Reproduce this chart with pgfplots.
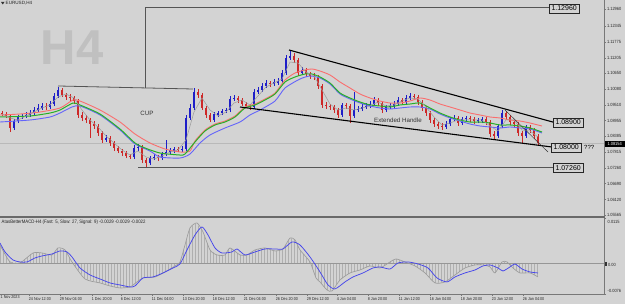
\documentclass[border=0pt]{standalone}
\usepackage{fontspec}
\setmainfont{Liberation Sans}
\newfontfamily\nf[FakeStretch=0.88]{Liberation Sans}
\usepackage{pgfplots}
\pgfplotsset{compat=1.18}
\usepackage{pgfplotstable}
\usetikzlibrary{patterns}

\definecolor{bg}{RGB}{211,211,211}
\definecolor{wm}{RGB}{192,192,192}
\definecolor{upc}{RGB}{30,30,200}
\definecolor{dnc}{RGB}{205,40,40}
\definecolor{mag}{RGB}{40,175,40}
\definecolor{mar}{RGB}{250,110,110}
\definecolor{mab}{RGB}{100,100,250}
\definecolor{fastc}{RGB}{155,155,155}
\definecolor{axisc}{RGB}{120,120,120}
\definecolor{lvl}{RGB}{85,85,85}
\definecolor{histc}{RGB}{175,175,175}
\definecolor{macdb}{RGB}{70,70,235}

\newcommand\lblfont{\fontsize{4.5}{5}\nf}
\newcommand\datefont{\fontsize{4.2}{5}\nf}
\newcommand\boxfont{\fontsize{7}{8}\selectfont}

\pgfplotstableread{
x o h l c d
2 1.09226 1.09298 1.09119 1.09190 0
6 1.09190 1.09262 1.09047 1.09119 0
10 1.09119 1.09190 1.08544 1.08688 0
14 1.08688 1.09011 1.08616 1.08939 1
18 1.08939 1.09155 1.08867 1.09083 1
22 1.09083 1.09190 1.09011 1.09119 1
26 1.09119 1.09262 1.09047 1.09155 1
30 1.09155 1.09334 1.09083 1.09226 1
34 1.09226 1.09442 1.09155 1.09334 1
38 1.09334 1.09549 1.09262 1.09406 1
42 1.09406 1.09585 1.09334 1.09478 1
46 1.09478 1.09585 1.09334 1.09442 0
50 1.09442 1.09657 1.09370 1.09549 1
54 1.09549 1.09944 1.09478 1.09837 1
58 1.09837 1.10160 1.09765 1.10052 1
62 1.10052 1.10124 1.09801 1.09873 0
66 1.09873 1.09944 1.09693 1.09801 0
70 1.09801 1.09908 1.09657 1.09765 0
74 1.09765 1.09837 1.09549 1.09657 0
78 1.09657 1.09729 1.09047 1.09155 0
82 1.09155 1.09262 1.08939 1.09047 0
86 1.09047 1.09155 1.08867 1.08975 0
90 1.08975 1.09047 1.08330 1.08831 0
94 1.08831 1.08939 1.08652 1.08760 0
98 1.08760 1.08831 1.08402 1.08508 0
102 1.08508 1.08580 1.08150 1.08258 0
106 1.08258 1.08438 1.08186 1.08330 1
110 1.08330 1.08402 1.08042 1.08150 0
114 1.08150 1.08222 1.07862 1.07970 0
118 1.07970 1.08042 1.07790 1.07862 0
122 1.07862 1.07934 1.07682 1.07790 0
126 1.07790 1.07862 1.07610 1.07682 0
130 1.07682 1.07754 1.07574 1.07646 0
134 1.07646 1.08078 1.07574 1.07970 1
138 1.07970 1.08114 1.07862 1.08006 1
142 1.08006 1.08078 1.07431 1.07539 0
146 1.07539 1.07610 1.07251 1.07431 0
150 1.07431 1.07682 1.07359 1.07610 1
154 1.07610 1.07754 1.07539 1.07646 1
158 1.07646 1.07718 1.07503 1.07610 0
162 1.07610 1.07826 1.07539 1.07754 1
166 1.07754 1.08258 1.07682 1.07826 1
170 1.07826 1.07970 1.07754 1.07898 1
174 1.07862 1.08006 1.07790 1.07934 1
178 1.07934 1.08006 1.07826 1.07898 0
182 1.07898 1.08042 1.07826 1.07934 1
186 1.07934 1.09155 1.07862 1.09047 1
190 1.09047 1.09549 1.08975 1.09406 1
194 1.09406 1.10124 1.09334 1.09980 1
198 1.09980 1.10088 1.09765 1.09873 0
202 1.09873 1.09944 1.09334 1.09406 0
206 1.09406 1.09478 1.09047 1.09155 0
210 1.09155 1.09226 1.08903 1.08975 0
214 1.08975 1.09262 1.08903 1.09190 1
218 1.09155 1.09298 1.09083 1.09226 1
222 1.09226 1.09370 1.09155 1.09298 1
226 1.09298 1.09406 1.09226 1.09334 1
230 1.09334 1.09837 1.09262 1.09729 1
234 1.09729 1.09873 1.09657 1.09765 1
238 1.09765 1.09837 1.09585 1.09693 0
242 1.09693 1.09765 1.09478 1.09549 0
246 1.09549 1.09621 1.09406 1.09478 0
250 1.09478 1.09549 1.09334 1.09442 0
254 1.09442 1.10088 1.09370 1.09980 1
258 1.09980 1.10160 1.09908 1.10052 1
262 1.10052 1.10303 1.09980 1.10196 1
266 1.10196 1.10411 1.10124 1.10303 1
270 1.10303 1.10375 1.10160 1.10267 0
274 1.10267 1.10447 1.10196 1.10339 1
278 1.10303 1.10483 1.10232 1.10375 1
282 1.10375 1.10770 1.10303 1.10662 1
286 1.10662 1.11309 1.10591 1.11201 1
290 1.11201 1.11488 1.11129 1.11273 1
294 1.11273 1.11380 1.11021 1.11129 0
298 1.11129 1.11201 1.10555 1.10662 0
302 1.10662 1.10878 1.10591 1.10770 1
306 1.10770 1.10842 1.10519 1.10626 0
310 1.10626 1.10698 1.10447 1.10555 0
314 1.10555 1.10662 1.10411 1.10519 0
318 1.10519 1.10591 1.10088 1.10196 0
322 1.10196 1.10267 1.09406 1.09514 0
326 1.09514 1.09621 1.09370 1.09478 0
330 1.09478 1.09549 1.09334 1.09442 0
334 1.09442 1.09514 1.09226 1.09334 0
338 1.09334 1.09406 1.09047 1.09155 0
342 1.09155 1.09585 1.09083 1.09514 1
346 1.09514 1.09585 1.09370 1.09478 0
350 1.09478 1.09549 1.08867 1.09119 0
354 1.09119 1.09980 1.09047 1.09334 1
358 1.09334 1.09478 1.09262 1.09370 1
362 1.09370 1.09549 1.09298 1.09442 1
366 1.09442 1.09585 1.09370 1.09478 1
370 1.09478 1.09657 1.09406 1.09549 1
374 1.09549 1.09801 1.09478 1.09693 1
378 1.09693 1.09765 1.09478 1.09585 0
382 1.09585 1.09657 1.09226 1.09334 0
386 1.09334 1.09514 1.09262 1.09442 1
390 1.09442 1.09585 1.09370 1.09478 1
394 1.09478 1.09657 1.09406 1.09549 1
398 1.09549 1.09801 1.09478 1.09693 1
402 1.09693 1.09765 1.09514 1.09621 0
406 1.09621 1.09873 1.09549 1.09765 1
410 1.09765 1.09944 1.09693 1.09837 1
414 1.09837 1.09908 1.09693 1.09801 0
418 1.09801 1.09873 1.09514 1.09621 0
422 1.09621 1.09693 1.09298 1.09406 0
426 1.09406 1.09478 1.09119 1.09226 0
430 1.09226 1.09298 1.08867 1.08975 0
434 1.08975 1.09047 1.08724 1.08831 0
438 1.08831 1.08903 1.08652 1.08760 0
442 1.08760 1.08867 1.08616 1.08724 0
446 1.08724 1.08939 1.08652 1.08831 1
450 1.08831 1.09083 1.08760 1.09011 1
454 1.09011 1.09155 1.08939 1.09047 1
458 1.09047 1.09119 1.08760 1.08867 0
462 1.08867 1.09083 1.08796 1.09011 1
466 1.09011 1.09119 1.08939 1.09047 1
470 1.09047 1.09119 1.08903 1.09011 0
474 1.09011 1.09083 1.08831 1.08939 0
478 1.08939 1.09047 1.08867 1.08975 1
482 1.08939 1.09083 1.08867 1.09011 1
486 1.09011 1.09083 1.08796 1.08903 0
490 1.08903 1.08975 1.08366 1.08472 0
494 1.08472 1.08580 1.08294 1.08402 0
498 1.08402 1.08831 1.08330 1.08760 1
502 1.08760 1.09334 1.08688 1.09226 1
506 1.09226 1.09298 1.08975 1.09083 0
510 1.09083 1.09155 1.08796 1.08903 0
514 1.08903 1.08975 1.08724 1.08831 0
518 1.08831 1.08903 1.08402 1.08508 0
522 1.08508 1.08580 1.08150 1.08402 0
526 1.08402 1.08796 1.08330 1.08724 1
530 1.08724 1.08796 1.08508 1.08616 0
534 1.08616 1.08688 1.08294 1.08402 0
538 1.08402 1.08472 1.08078 1.08150 0
}\candles

\pgfplotstableread{
x v
0 0.00472
10 0.00045
20 0.00020
33 0.00271
42 0.00271
52 0.00221
58 0.00397
65 0.00347
72 0.00045
85 -0.00382
100 -0.00482
110 -0.00558
120 -0.00608
130 -0.00583
137 -0.00457
143 -0.00357
155 -0.00332
165 -0.00206
175 -0.00055
180 0.00045
185 0.00472
190 0.00900
197 0.01025
203 0.00799
210 0.00347
217 0.00221
225 0.00221
230 0.00397
240 0.00221
247 0.00221
255 0.00347
265 0.00397
275 0.00322
283 0.00372
290 0.00648
295 0.00598
300 0.00347
310 0.00045
316 -0.00357
320 -0.00457
327 -0.00658
332 -0.00684
340 -0.00407
350 -0.00231
360 -0.00156
370 -0.00055
380 -0.00106
390 0.00045
396 0.00121
405 0.00045
415 -0.00055
425 -0.00231
435 -0.00482
445 -0.00457
455 -0.00281
465 -0.00106
475 -0.00030
483 -0.00030
490 -0.00080
495 -0.00231
502 0.00045
507 0.00045
513 -0.00106
520 -0.00231
530 -0.00231
538 -0.00332
}\macdmain

\pgfplotstableread{
x v
0 0.00523
5 0.00297
13 0.00095
20 0.00045
27 0.00045
35 0.00146
42 0.00196
52 0.00246
60 0.00322
67 0.00297
72 0.00171
80 -0.00106
90 -0.00281
100 -0.00382
110 -0.00482
120 -0.00533
130 -0.00583
135 -0.00558
143 -0.00357
153 -0.00332
163 -0.00231
173 -0.00106
180 -0.00005
187 0.00347
195 0.00724
202 0.00925
208 0.00724
215 0.00397
222 0.00271
232 0.00297
237 0.00372
245 0.00221
255 0.00297
265 0.00372
275 0.00372
283 0.00372
292 0.00548
300 0.00472
310 0.00171
320 -0.00206
328 -0.00533
335 -0.00633
345 -0.00457
353 -0.00332
363 -0.00231
373 -0.00106
380 -0.00080
390 -0.00131
398 0.00020
408 0.00045
418 -0.00005
428 -0.00106
437 -0.00357
447 -0.00457
455 -0.00332
465 -0.00231
475 -0.00156
483 -0.00055
490 -0.00030
498 -0.00106
503 -0.00181
510 -0.00080
515 -0.00005
522 -0.00131
530 -0.00206
538 -0.00231
}\macdsignal

\begin{document}
\begin{tikzpicture}[x=1pt,y=1pt]
\useasboundingbox (0pt,0pt) rectangle (625pt,-304pt);
\fill[bg] (0pt,0pt) rectangle (625pt,-304pt);
% watermark
\node[text=wm, font=\fontsize{49}{50}\bfseries, inner sep=0pt] at (72pt,-47.5pt) {H4};
% title
\fill[black!80] (1pt,-2pt) -- (4.5pt,-2pt) -- (2.75pt,-4.5pt) -- cycle;
\node[anchor=west, inner sep=0pt, font=\fontsize{4.6}{5}\selectfont, text=black!85] at (5.5pt,-3.2pt) {EURUSD,H4};

% ---------------- price panel ----------------
\begin{axis}[
  at={(0pt,0pt)}, anchor=north west,
  scale only axis, width=604pt, height=216pt,
  xmin=0, xmax=604, ymin=1.05529, ymax=1.13283,
  axis x line=none, axis y line*=right,
  axis line style={-, draw=axisc, line width=0.8pt},
  ytick={1.12960,1.12345,1.11775,1.11205,1.10650,1.10080,1.09510,1.08955,1.08385,1.07815,1.07260,1.06690,1.06120,1.05565},
  yticklabels={1.12960,1.12345,1.11775,1.11205,1.10650,1.10080,1.09510,1.08955,1.08385,1.07815,1.07260,1.06690,1.06120,1.05565},
  scaled y ticks=false,
  tick align=outside, major tick length=2pt,
  tick style={draw=axisc, line width=0.5pt},
  yticklabel style={font=\lblfont, inner sep=0.8pt, text=black!85},
]
% bid line
\addplot[draw={rgb,255:red,185;green,185;blue,185}, line width=0.5pt] coordinates {(0,1.08154) (604,1.08154)};

% candles (the other colour's candles are pushed one unit above the axis and clipped)
\addplot[upc, line width=0.6pt, -, mark=none, quiver={u=0, v=\thisrow{h}-\thisrow{l}}]
  table[x=x, y expr={\thisrow{l}+1-\thisrow{d}}] {\candles};
\addplot[dnc, line width=0.6pt, -, mark=none, quiver={u=0, v=\thisrow{h}-\thisrow{l}}]
  table[x=x, y expr={\thisrow{l}+\thisrow{d}}] {\candles};
\addplot[upc, line width=2.8pt, -, mark=none, quiver={u=0, v=\thisrow{c}-\thisrow{o}}]
  table[x=x, y expr={\thisrow{o}+1-\thisrow{d}}] {\candles};
\addplot[dnc, line width=2.8pt, -, mark=none, quiver={u=0, v=\thisrow{c}-\thisrow{o}}]
  table[x=x, y expr={\thisrow{o}+\thisrow{d}}] {\candles};

% moving averages
\addplot[mar, line width=0.9pt, smooth, tension=0.4] coordinates {
(0,1.09155) (20,1.09190) (40,1.09262) (60,1.09406) (73,1.09693) (80,1.09657) (100,1.09334) (120,1.08903) (135,1.08472) (150,1.08150) (165,1.07934) (180,1.07826) (190,1.07862) (195,1.08222) (205,1.08616) (215,1.08831) (225,1.08939) (235,1.09119) (245,1.09442) (255,1.09549) (265,1.09729) (275,1.09944) (285,1.10411) (295,1.10662) (305,1.10770) (312,1.10806) (320,1.10734) (330,1.10591) (340,1.10339) (350,1.10124) (360,1.09908) (370,1.09765) (380,1.09657) (390,1.09585) (400,1.09585) (410,1.09657) (420,1.09765) (430,1.09693) (440,1.09549) (450,1.09442) (460,1.09334) (470,1.09226) (480,1.09155) (490,1.09083) (500,1.09047) (510,1.08975) (520,1.08939) (530,1.08867) (542,1.08760)};
\addplot[mab, line width=0.9pt, smooth, tension=0.4] coordinates {
(0,1.08903) (30,1.08975) (50,1.09083) (60,1.09226) (72,1.09442) (80,1.09478) (100,1.09155) (120,1.08616) (135,1.08114) (150,1.07862) (160,1.07646) (180,1.07610) (190,1.07754) (200,1.08150) (210,1.08438) (225,1.08688) (240,1.08903) (250,1.09155) (260,1.09334) (275,1.09657) (285,1.10124) (300,1.10447) (310,1.10555) (320,1.10483) (330,1.10267) (340,1.09908) (350,1.09729) (360,1.09585) (370,1.09478) (380,1.09406) (390,1.09370) (400,1.09406) (410,1.09442) (420,1.09442) (430,1.09370) (440,1.09190) (450,1.09047) (460,1.08939) (470,1.08831) (480,1.08760) (490,1.08724) (500,1.08688) (510,1.08724) (520,1.08688) (530,1.08652) (542,1.08508)};
\addplot[mag, line width=1pt, smooth, tension=0.4] coordinates {
(0,1.09083) (30,1.09119) (50,1.09226) (60,1.09334) (73,1.09585) (80,1.09514) (100,1.09190) (120,1.08652) (135,1.08150) (145,1.07970) (160,1.07790) (180,1.07718) (185,1.07754) (195,1.08186) (205,1.08580) (215,1.08796) (225,1.08903) (235,1.09083) (245,1.09406) (255,1.09514) (265,1.09693) (275,1.09908) (285,1.10339) (295,1.10519) (305,1.10626) (312,1.10626) (320,1.10519) (330,1.10303) (340,1.09944) (350,1.09765) (360,1.09621) (370,1.09514) (380,1.09478) (390,1.09442) (400,1.09514) (410,1.09549) (420,1.09585) (430,1.09406) (440,1.09226) (450,1.09083) (460,1.08975) (470,1.08903) (480,1.08903) (490,1.08867) (500,1.08796) (510,1.08796) (520,1.08760) (530,1.08688) (542,1.08544)};
\addplot[fastc, line width=0.5pt] coordinates {
(2,1.09190) (10,1.09047) (18,1.08975) (26,1.09119) (34,1.09262) (42,1.09406) (50,1.09514) (58,1.09801) (66,1.09908) (74,1.09765) (82,1.09334) (90,1.08975) (98,1.08724) (106,1.08402) (114,1.08150) (122,1.07898) (130,1.07718) (138,1.07862) (146,1.07646) (154,1.07574) (162,1.07682) (170,1.07826) (178,1.07898) (186,1.08258) (194,1.09262) (202,1.09765) (210,1.09334) (218,1.09119) (226,1.09262) (234,1.09585) (242,1.09693) (250,1.09514) (258,1.09837) (266,1.10160) (274,1.10303) (282,1.10447) (290,1.11057) (298,1.11021) (306,1.10698) (314,1.10555) (322,1.10052) (330,1.09549) (338,1.09334) (346,1.09406) (354,1.09334) (362,1.09406) (370,1.09478) (378,1.09621) (386,1.09478) (394,1.09514) (402,1.09657) (410,1.09765) (418,1.09729) (426,1.09442) (434,1.09083) (442,1.08796) (450,1.08867) (458,1.08975) (466,1.08975) (474,1.08975) (482,1.08975) (490,1.08760) (498,1.08580) (506,1.08975) (514,1.08975) (522,1.08616) (530,1.08580) (538,1.08366)};

% levels and trend lines
\addplot[lvl, line width=0.8pt] coordinates {(145,1.1300) (549,1.1300)};
\addplot[lvl, line width=0.8pt] coordinates {(145,1.1300) (145,1.10124)};
\addplot[lvl, line width=0.8pt] coordinates {(58,1.10196) (193,1.10088)};
\addplot[lvl, line width=0.8pt] coordinates {(138,1.07260) (553,1.07260)};
\addplot[black, line width=1.1pt] coordinates {(289,1.11488) (553,1.08900)};
\addplot[black, line width=1.1pt] coordinates {(240,1.09442) (551,1.08010)};
\addplot[black!80, line width=0.45pt] coordinates {(505,1.09334) (548,1.07826)};

% texts and boxes
\node[font=\fontsize{6.2}{7}\selectfont, text=black!80, inner sep=0pt] at (axis cs:147,1.09226) {CUP};
\node[font=\fontsize{6.2}{7}\selectfont, text=black!80, inner sep=0pt] at (axis cs:398,1.08975) {Extended Handle};
\node[draw=black!85, line width=0.6pt, fill=bg, inner xsep=2.2pt, inner ysep=2pt, font=\boxfont, anchor=west] at (axis cs:549,1.12975) {1.12960};
\node[draw=black!85, line width=0.6pt, fill=bg, inner xsep=2.2pt, inner ysep=2pt, font=\boxfont, anchor=west] at (axis cs:553,1.08885) {1.08900};
\node[draw=black!85, line width=0.6pt, fill=bg, inner xsep=2.2pt, inner ysep=2pt, font=\boxfont, anchor=west] at (axis cs:551,1.07990) {1.08000};
\node[font=\fontsize{6}{7}\selectfont, anchor=west, inner sep=0pt] at (axis cs:584,1.07990) {???};
\node[draw=black!85, line width=0.6pt, fill=bg, inner xsep=2.2pt, inner ysep=2pt, font=\boxfont, anchor=west] at (axis cs:553,1.07250) {1.07260};
\end{axis}

% ---------------- MACD panel ----------------
\begin{axis}[
  at={(0pt,-218pt)}, anchor=north west,
  scale only axis, width=604pt, height=76pt,
  xmin=0, xmax=604, ymin=-0.0076, ymax=0.0115,
  axis x line*=bottom, axis y line*=right,
  axis line style={-, draw=axisc, line width=0.8pt},
  xtick={29,60,92,121,152,183,213,244,276,307,337,368,399,430,461,492,523},
  xticklabels={24 Nov 12:00,29 Nov 04:00,1 Dec 20:00,6 Dec 12:00,11 Dec 04:00,13 Dec 20:00,18 Dec 12:00,21 Dec 04:00,26 Dec 20:00,29 Dec 12:00,4 Jan 04:00,8 Jan 20:00,11 Jan 12:00,16 Jan 04:00,18 Jan 20:00,23 Jan 12:00,26 Jan 04:00},
  xticklabel style={font=\datefont, anchor=north west, inner sep=0pt, yshift=-1.8pt, xshift=-0.3pt, text=black!85},
  ytick={0.0115,0,-0.0076}, yticklabels={,,},
  scaled y ticks=false,
  tick align=outside, major tick length=2pt,
  tick style={draw=axisc, line width=0.5pt},
]
\addplot[draw=none, pattern=vertical lines, pattern color=histc] table[x=x,y=v] {\macdmain} \closedcycle;
\addplot[draw={rgb,255:red,150;green,150;blue,150}, line width=0.6pt] coordinates {(0,0) (604,0)};
\addplot[fastc, line width=0.65pt, smooth, tension=0.4] table[x=x,y=v] {\macdmain};
\addplot[macdb, line width=0.75pt, smooth, tension=0.4] table[x=x,y=v] {\macdsignal};
\end{axis}

% separator
\draw[line width=1.6pt, draw={rgb,255:red,105;green,105;blue,105}] (0pt,-216.8pt) -- (605pt,-216.8pt);
% indicator label
\node[anchor=west, inner sep=0pt, font=\fontsize{4.9}{5}\nf, text=black!85] at (1.5pt,-222.5pt) {AtasBetterMACD-H4 (Fast: 5, Slow: 27, Signal: 9) -0.0029 -0.0029 -0.0022};
% first date label
\node[anchor=north west, inner sep=0pt, font=\datefont, text=black!85] at (0.5pt,-295.8pt) {1 Nov 2023};
% MACD right labels
\node[anchor=west, inner sep=0pt, font=\lblfont, text=black!85] at (607.5pt,-221.5pt) {0.0115};
\fill[black!80] (604.5pt,-262.3pt) rectangle (607.3pt,-266.3pt);
\node[anchor=west, inner sep=0pt, font=\lblfont, text=black!85] at (607.8pt,-264.6pt) {0.00};
\node[anchor=west, inner sep=0pt, font=\lblfont, text=black!85] at (607.5pt,-291pt) {-0.0076};
% current price label
\fill[black] (605pt,-141.2pt) rectangle (625pt,-147pt);
\node[anchor=west, inner sep=0pt, font=\lblfont, text=white] at (607.3pt,-144.1pt) {1.08154};
\end{tikzpicture}
\end{document}
